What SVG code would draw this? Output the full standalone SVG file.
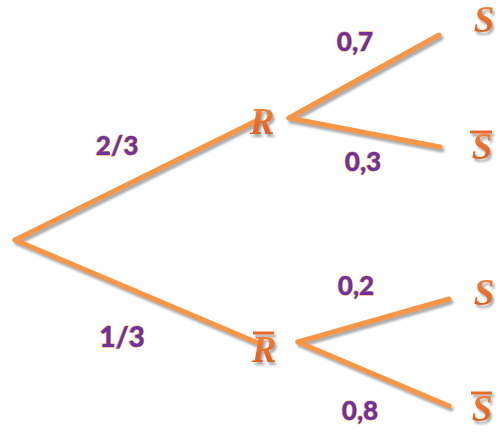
<svg xmlns="http://www.w3.org/2000/svg" width="501" height="440" viewBox="0 0 501 440">
<defs>
<filter id="sh" x="-20%" y="-20%" width="140%" height="140%">
<feDropShadow dx="2" dy="3" stdDeviation="1" flood-color="#888" flood-opacity="0.7"/>
</filter>
<linearGradient id="lg" x1="0" y1="0" x2="0" y2="1">
<stop offset="0" stop-color="#F5883C"/>
<stop offset="1" stop-color="#D9581A"/>
</linearGradient>
</defs>
<style>
.e{stroke:#F79646;stroke-width:5;stroke-linecap:round;fill:none}
.p{font-family:Lato,"Liberation Sans",sans-serif;font-weight:900;font-size:26px;fill:#7030A0;stroke:#E8A040;stroke-width:1;paint-order:stroke;text-anchor:middle}
.v{font-family:"Liberation Serif",serif;font-weight:bold;font-style:italic;font-size:37px;fill:url(#lg);text-anchor:middle}
.b{stroke:#E8692A;stroke-width:3}
</style>
<g id="connectors" filter="url(#sh)">
<line class="e" x1="15" y1="240" x2="258" y2="120"/>
<line class="e" x1="15" y1="240" x2="258" y2="343"/>
<line class="e" x1="289" y1="118" x2="439" y2="35"/>
<line class="e" x1="289" y1="118" x2="440" y2="147"/>
<line class="e" x1="298" y1="342" x2="449" y2="299"/>
<line class="e" x1="298" y1="342" x2="449" y2="406"/>
</g>
<g id="labels">
<text class="p" x="117" y="155">2/3</text>
<text class="p" x="122" y="347" style="font-size:28px">1/3</text>
<text class="p" x="355" y="51">0,7</text>
<text class="p" x="363" y="171">0,3</text>
<text class="p" x="356" y="295">0,2</text>
<text class="p" x="360" y="420">0,8</text>
</g>
<g id="node-R" filter="url(#sh)"><text class="v" x="262" y="134">R</text></g>
<g id="node-Rbar" filter="url(#sh)"><line class="b" x1="253" y1="333" x2="274" y2="333"/><text class="v" x="264" y="362">R</text></g>
<g id="node-S1" filter="url(#sh)"><text class="v" x="484" y="32">S</text></g>
<g id="node-S1bar" filter="url(#sh)"><line class="b" x1="470" y1="132" x2="492" y2="132"/><text class="v" x="482" y="159">S</text></g>
<g id="node-S2" filter="url(#sh)"><text class="v" x="484" y="305">S</text></g>
<g id="node-S2bar" filter="url(#sh)"><line class="b" x1="471" y1="393" x2="492" y2="393"/><text class="v" x="482" y="421">S</text></g>
</svg>
